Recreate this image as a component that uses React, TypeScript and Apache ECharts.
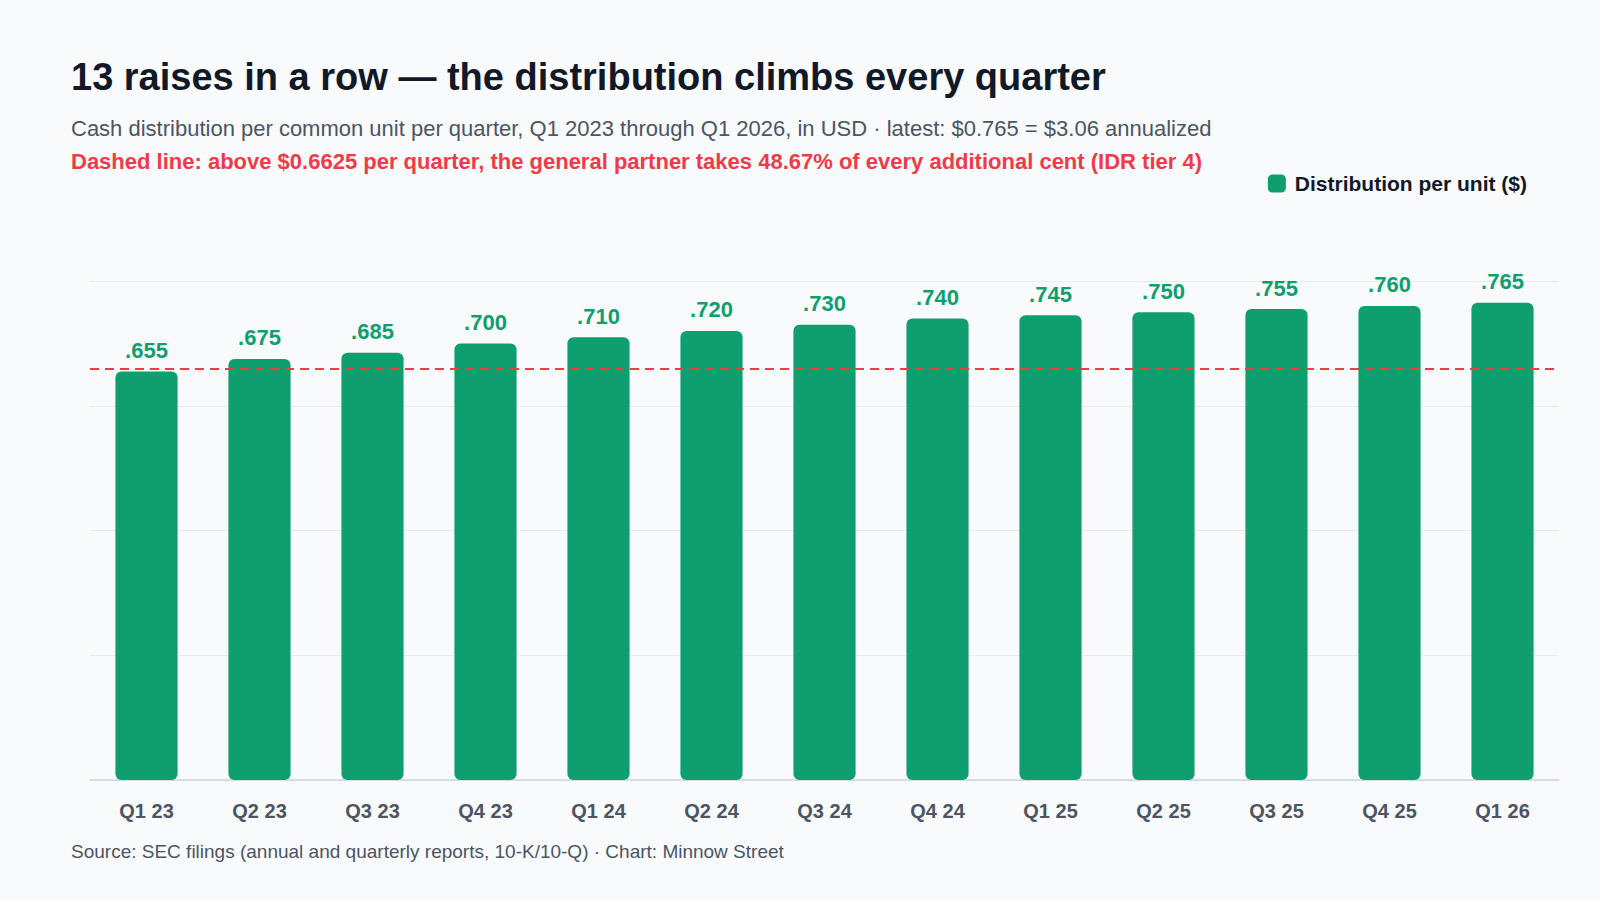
import React, { useEffect, useRef } from 'react';
import * as echarts from 'echarts';

const quarters = ['Q1 23', 'Q2 23', 'Q3 23', 'Q4 23', 'Q1 24', 'Q2 24', 'Q3 24', 'Q4 24', 'Q1 25', 'Q2 25', 'Q3 25', 'Q4 25', 'Q1 26'];
const distribution = [0.655, 0.675, 0.685, 0.7, 0.71, 0.72, 0.73, 0.74, 0.745, 0.75, 0.755, 0.76, 0.765];
const idrThreshold = 0.6625;

const FONT = '"Liberation Sans", Arial, Helvetica, sans-serif';
const GREEN = '#0f9f6e';
const RED = '#ef3b47';

const App: React.FC = () => {
  const chartRef = useRef<HTMLDivElement>(null);

  useEffect(() => {
    document.body.style.margin = '0';
    if (!chartRef.current) return;
    const chart = echarts.init(chartRef.current, undefined, { renderer: 'svg' });

    const option: echarts.EChartsOption = {
      animation: false,
      backgroundColor: '#f8fafc',
      textStyle: { fontFamily: FONT },
      title: [
        {
          text: '13 raises in a row — the distribution climbs every quarter',
          left: 66,
          top: 53,
          textStyle: { fontSize: 38, fontWeight: 'bold', color: '#111827', fontFamily: FONT },
        },
        {
          text: 'Cash distribution per common unit per quarter, Q1 2023 through Q1 2026, in USD · latest: $0.765 = $3.06 annualized',
          left: 66,
          top: 112,
          textStyle: { fontSize: 22, fontWeight: 'normal', color: '#4b5563', fontFamily: FONT },
        },
        {
          text: 'Dashed line: above $0.6625 per quarter, the general partner takes 48.67% of every additional cent (IDR tier 4)',
          left: 66,
          top: 145,
          textStyle: { fontSize: 22, fontWeight: 'bold', color: RED, fontFamily: FONT },
        },
        {
          text: 'Source: SEC filings (annual and quarterly reports, 10-K/10-Q) · Chart: Minnow Street',
          left: 66,
          top: 837,
          textStyle: { fontSize: 19, fontWeight: 'normal', color: '#4b5563', fontFamily: FONT },
        },
      ],
      legend: {
        right: 68,
        top: 168,
        itemWidth: 18,
        itemHeight: 18,
        itemGap: 10,
        icon: 'roundRect',
        textStyle: { fontSize: 21, fontWeight: 'bold', color: '#111827', fontFamily: FONT, padding: [0, 0, 0, 4] },
        data: ['Distribution per unit ($)'],
      },
      grid: { left: 90, right: 41, top: 281, bottom: 120 },
      xAxis: {
        type: 'category',
        data: quarters,
        axisTick: { show: false },
        axisLine: { lineStyle: { color: '#cbd5e1', width: 1.5 } },
        axisLabel: { fontSize: 20, fontWeight: 'bold', color: '#4b5563', margin: 21, fontFamily: FONT },
      },
      yAxis: {
        type: 'value',
        min: 0,
        max: 0.8,
        interval: 0.2,
        axisLabel: { show: false },
        axisLine: { show: false },
        axisTick: { show: false },
        splitLine: { lineStyle: { color: '#e8ebef', width: 1 } },
      },
      series: [
        {
          name: 'Distribution per unit ($)',
          type: 'bar',
          data: distribution,
          barWidth: '55%',
          itemStyle: { color: GREEN, borderRadius: 6 },
          label: {
            show: true,
            position: 'top',
            distance: 10,
            fontSize: 22,
            fontWeight: 'bold',
            color: GREEN,
            fontFamily: FONT,
            formatter: (p: any) => p.value.toFixed(3).replace(/^0/, ''),
          },
          markLine: {
            silent: true,
            symbol: 'none',
            label: { show: false },
            lineStyle: { color: RED, type: [9, 6], width: 2 },
            data: [{ yAxis: idrThreshold }],
          },
        },
      ],
    };

    chart.setOption(option);
    const onResize = () => chart.resize();
    window.addEventListener('resize', onResize);
    return () => {
      window.removeEventListener('resize', onResize);
      chart.dispose();
    };
  }, []);

  return <div ref={chartRef} style={{ width: '100vw', height: '100vh' }} />;
};

export default App;
